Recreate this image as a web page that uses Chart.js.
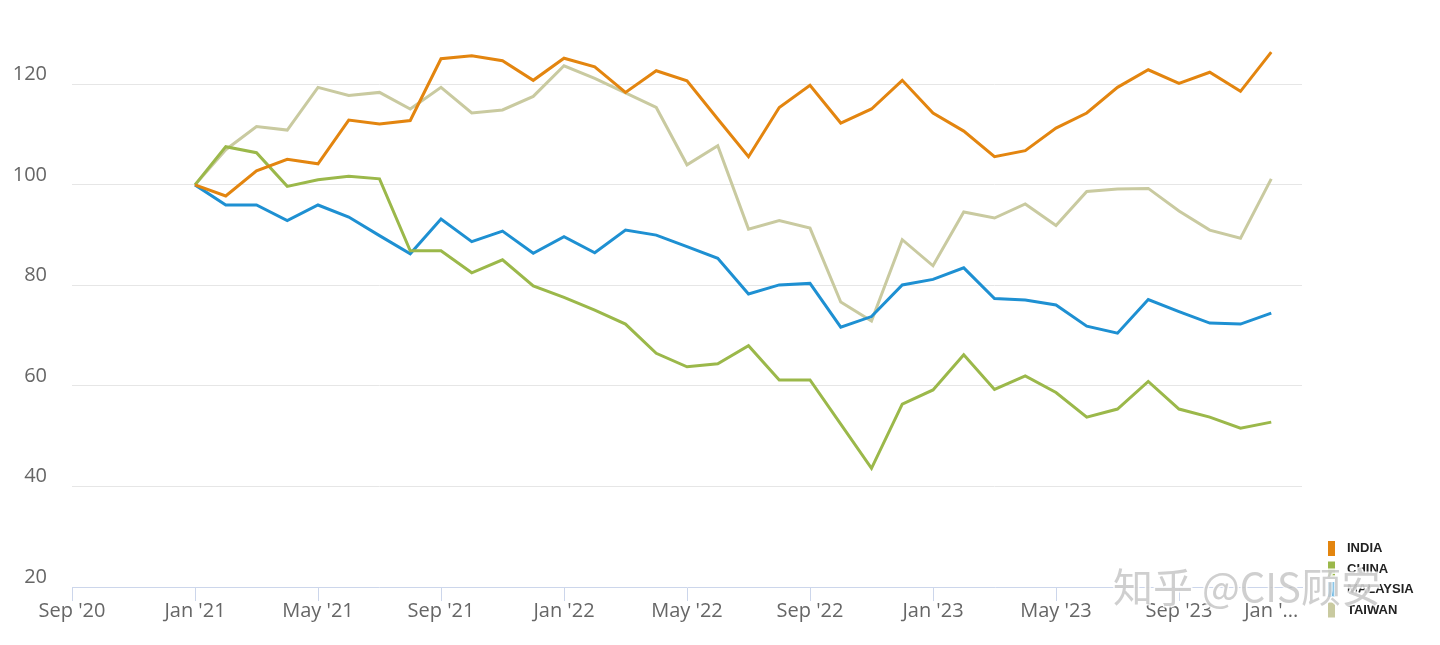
<!DOCTYPE html>
<html>
<head>
<meta charset="utf-8">
<title>India / China / Malaysia / Taiwan</title>
<script src="https://cdn.jsdelivr.net/npm/chart.js@4.4.1/dist/chart.umd.min.js"></script>
<style>
  html, body { margin: 0; padding: 0; background: #fff; }
  #wrap { width: 1440px; height: 645px; position: relative; }
</style>
</head>
<body>
<div id="wrap"><canvas id="lineChart"></canvas></div>
<script>
// 月份 (Jan '21 = 0)
const months = ["Jan '21","Feb '21","Mar '21","Apr '21","May '21","Jun '21","Jul '21","Aug '21","Sep '21","Oct '21","Nov '21","Dec '21",
  "Jan '22","Feb '22","Mar '22","Apr '22","May '22","Jun '22","Jul '22","Aug '22","Sep '22","Oct '22","Nov '22","Dec '22",
  "Jan '23","Feb '23","Mar '23","Apr '23","May '23","Jun '23","Jul '23","Aug '23","Sep '23","Oct '23","Nov '23","Dec '23"];

// 各系列数据
const india    = [100,97.8,102.8,105.1,104.2,112.9,112.1,112.8,125.1,125.7,124.7,120.8,125.2,123.5,118.4,122.7,120.7,113.1,105.6,115.4,119.8,112.3,115.1,120.8,114.3,110.7,105.6,106.8,111.3,114.3,119.4,122.9,120.2,122.4,118.6,126.4];
const china    = [100,107.6,106.4,99.7,101.0,101.7,101.2,86.9,86.9,82.5,85.1,79.9,77.6,75.1,72.3,66.5,63.8,64.4,68.0,61.2,61.2,52.4,43.6,56.4,59.2,66.2,59.3,62.0,58.7,53.8,55.4,60.9,55.4,53.8,51.6,52.8];
const malaysia = [100,96.0,96.0,92.9,96.0,93.6,89.9,86.3,93.2,88.7,90.8,86.4,89.7,86.5,91.0,90.0,87.7,85.4,78.3,80.1,80.4,71.7,73.8,80.1,81.2,83.5,77.4,77.1,76.1,71.9,70.5,77.2,74.8,72.5,72.3,74.5];
const taiwan   = [100,107.0,111.6,110.9,119.4,117.8,118.4,115.1,119.4,114.3,114.9,117.6,123.7,121.2,118.3,115.4,104.0,107.8,91.2,92.9,91.4,76.7,72.9,89.1,83.9,94.6,93.4,96.2,91.9,98.7,99.2,99.3,94.8,91.0,89.4,101.2];

// 坐标轴刻度
const xTickValues = [-4,0,4,8,12,16,20,24,28,32,35];
const xTickLabels = ["Sep '20","Jan '21","May '21","Sep '21","Jan '22","May '22","Sep '22","Jan '23","May '23","Sep '23","Jan '..."];
const yTickValues = [20,40,60,80,100,120];

const seriesNames  = ["INDIA","CHINA","MALAYSIA","TAIWAN"];
const seriesColors = ["#e3850f","#9bb84a","#1e90d2","#c9caa0"];

function toPoints(arr) {
  return arr.map((v, i) => ({ x: i, y: v }));
}

/**
 * 图例 + 水印
 */
const legendAndMark = {
  id: 'legendAndMark',
  afterDraw(chart) {
    const ctx = chart.ctx;
    ctx.save();
    chart.data.datasets.forEach((ds, i) => {
      const top = 541 + i * 20.5;
      ctx.fillStyle = ds.borderColor;
      ctx.fillRect(1328, top, 7, 15);
      ctx.fillStyle = '#222';
      ctx.font = 'bold 13px "Liberation Sans", Arial, sans-serif';
      ctx.textBaseline = 'middle';
      ctx.textAlign = 'left';
      ctx.fillText(ds.label, 1347, top + 7.5);
    });
    // 水印
    ctx.font = '40px "Noto Sans CJK SC", sans-serif';
    ctx.textBaseline = 'alphabetic';
    ctx.lineWidth = 3;
    ctx.strokeStyle = 'rgba(255,255,255,0.85)';
    ctx.strokeText('知乎 @CIS顾安', 1113, 602);
    ctx.fillStyle = 'rgba(160,160,160,0.5)';
    ctx.fillText('知乎 @CIS顾安', 1113, 602);
    ctx.restore();
  }
};

const datasets = [india, china, malaysia, taiwan].map((arr, i) => ({
  label: seriesNames[i],
  data: toPoints(arr),
  borderColor: seriesColors[i],
  backgroundColor: seriesColors[i],
  borderWidth: 3,
  pointRadius: 0,
  tension: 0,
  fill: false
}));

const ctxLine = document.getElementById('lineChart').getContext('2d');
const lineChart = new Chart(ctxLine, {
  type: 'line',
  data: { datasets: datasets },
  options: {
    responsive: true,
    maintainAspectRatio: false,
    animation: false,
    layout: { padding: { top: 19, right: 138, bottom: 0, left: 0 } },
    plugins: {
      legend: { display: false },
      tooltip: {
        callbacks: { title: (items) => months[items[0].parsed.x] }
      }
    },
    scales: {
      x: {
        type: 'linear',
        min: -4,
        max: 36,
        afterBuildTicks: (s) => { s.ticks = xTickValues.map(v => ({ value: v })); },
        afterFit: (s) => { s.height = 58; s.paddingLeft = 0; s.paddingRight = 0; },
        ticks: {
          autoSkip: false,
          maxRotation: 0,
          padding: -2,
          color: '#666',
          font: { family: '"Open Sans", sans-serif', size: 20 },
          callback: (val) => xTickLabels[xTickValues.indexOf(val)]
        },
        grid: {
          drawOnChartArea: false,
          drawTicks: true,
          tickLength: 14,
          tickColor: (c) => (c.tick && c.tick.value === 35) ? 'rgba(0,0,0,0)' : '#ccd6eb'
        },
        border: { display: true, color: '#ccd6eb', width: 1 }
      },
      y: {
        min: 20,
        max: 133,
        afterBuildTicks: (s) => { s.ticks = yTickValues.map(v => ({ value: v })); },
        afterFit: (s) => { s.width = 72; s.paddingTop = 0; s.paddingBottom = 0; },
        ticks: {
          padding: 25,
          labelOffset: -10,
          color: '#666',
          font: { family: '"Open Sans", sans-serif', size: 20 }
        },
        grid: {
          drawTicks: false,
          color: (c) => (c.tick && c.tick.value === 20) ? 'rgba(0,0,0,0)' : '#e6e6e6',
          lineWidth: 1
        },
        border: { display: false }
      }
    }
  },
  plugins: [legendAndMark]
});
</script>
</body>
</html>
